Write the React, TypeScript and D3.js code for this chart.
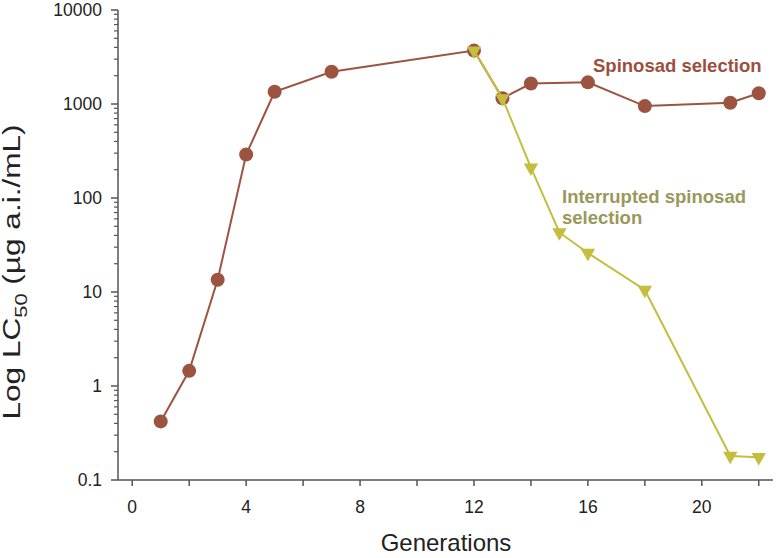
import React from "react";
import * as d3 from "d3";

const selGen = [1, 2, 3, 4, 5, 7, 12, 13, 14, 16, 18, 21, 22];
const selLC50 = [0.42, 1.45, 13.5, 290, 1350, 2200, 3700, 1150, 1650, 1700, 950, 1030, 1300];
const intGen = [12, 13, 14, 15, 16, 18, 21, 22];
const intLC50 = [3700, 1150, 210, 43, 26, 10.5, 0.18, 0.175];
const xTickValues = [0, 2, 4, 6, 8, 10, 12, 14, 16, 18, 20, 22];
const xTickLabels = [0, 4, 8, 12, 16, 20];
const yDecades = [0.1, 1, 10, 100, 1000, 10000];

const W = 777, H = 558;
const BROWN = "#9c5441";
const OLIVE = "#c5bd3e";
const AXIS = "#555";
const FONT = "Liberation Sans, Arial, sans-serif";

export default function App() {
  const x = d3.scaleLinear().domain([-0.5, 22.5]).range([118, 773]);
  const y = d3.scaleLog().domain([0.1, 10000]).range([480, 10]);
  const line = d3.line<[number, number]>().x(d => x(d[0])).y(d => y(d[1]));
  const selData: [number, number][] = selGen.map((g, i) => [g, selLC50[i]]);
  const intData: [number, number][] = intGen.map((g, i) => [g, intLC50[i]]);
  const minor: number[] = [];
  for (let k = 0; k < yDecades.length - 1; k++) for (let m = 2; m <= 9; m++) minor.push(yDecades[k] * m);
  const tri = d3.symbol().type(d3.symbolTriangle).size(90)();

  return (
    <svg width={W} height={H} style={{ position: "absolute", left: 0, top: 0, background: "#fff" }} fontFamily={FONT}>
      {/* axes */}
      <line x1={x(-0.5)} x2={x(-0.5)} y1={y(10000)} y2={y(0.1)} stroke={AXIS} strokeWidth={1.5} />
      <line x1={x(-0.5)} x2={x(22.5)} y1={y(0.1)} y2={y(0.1)} stroke={AXIS} strokeWidth={1.5} />
      {yDecades.map(v => (
        <g key={"yd" + v}>
          <line x1={x(-0.5) - 7} x2={x(-0.5)} y1={y(v)} y2={y(v)} stroke={AXIS} strokeWidth={1.5} />
          <text x={x(-0.5) - 16} y={y(v)} dy="0.36em" textAnchor="end" fontSize={17.5} fill="#222">{v}</text>
        </g>
      ))}
      {minor.map(v => (
        <line key={"ym" + v} x1={x(-0.5) - 4} x2={x(-0.5)} y1={y(v)} y2={y(v)} stroke={AXIS} strokeWidth={1.2} />
      ))}
      {xTickValues.map(v => (
        <line key={"xt" + v} x1={x(v)} x2={x(v)} y1={y(0.1)} y2={y(0.1) + 6} stroke={AXIS} strokeWidth={1.5} />
      ))}
      {xTickLabels.map(v => (
        <text key={"xl" + v} x={x(v)} y={y(0.1) + 33} textAnchor="middle" fontSize={17.5} fill="#222">{v}</text>
      ))}
      <text x={446} y={551} textAnchor="middle" fontSize={24} fill="#222">Generations</text>
      <text transform={`translate(20,272) rotate(-90)`} textAnchor="middle" fontSize={23} fill="#222"
        textLength={295} lengthAdjust="spacingAndGlyphs">
        Log LC<tspan fontSize={16} dy={7}>50</tspan><tspan dy={-7}> (µg a.i./mL)</tspan>
      </text>
      {/* series */}
      <path d={line(selData) || ""} fill="none" stroke={BROWN} strokeWidth={2} />
      {selData.map((d, i) => (
        <circle key={"c" + i} cx={x(d[0])} cy={y(d[1])} r={7} fill={BROWN} />
      ))}
      <path d={line(intData) || ""} fill="none" stroke={OLIVE} strokeWidth={2} />
      {intData.map((d, i) => (
        <path key={"t" + i} d={tri || ""} transform={`translate(${x(d[0])},${y(d[1])}) rotate(180)`} fill={OLIVE} />
      ))}
      <text x={593} y={72} fontSize={18.5} fontWeight="bold" fill="#9b4f3e">Spinosad selection</text>
      <text x={562} y={203} fontSize={18.5} fontWeight="bold" fill="#9a985a">Interrupted spinosad</text>
      <text x={562} y={224} fontSize={18.5} fontWeight="bold" fill="#9a985a">selection</text>
    </svg>
  );
}
